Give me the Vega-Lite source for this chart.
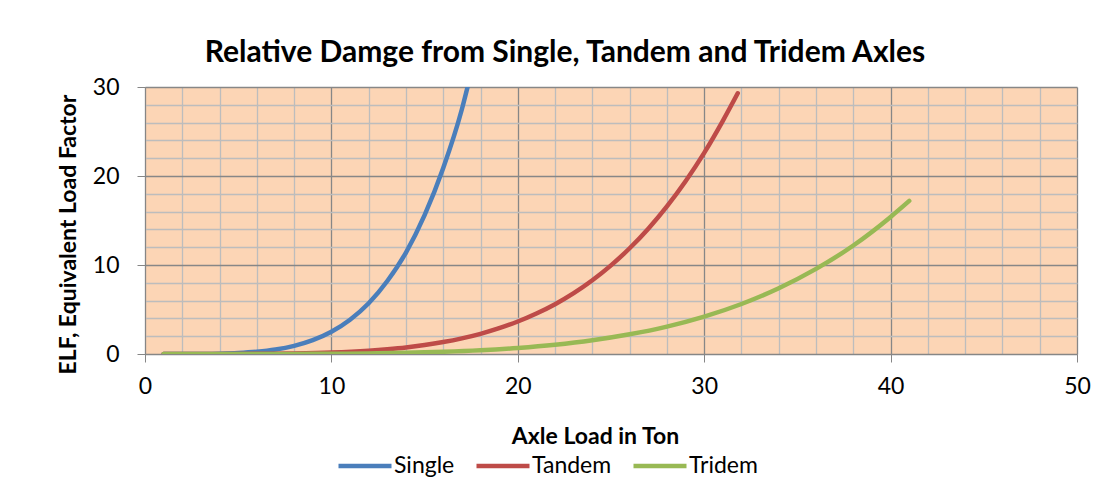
{
  "$schema": "https://vega.github.io/schema/vega-lite/v6.json",
  "autosize": {"type": "none"},
  "width": 932,
  "height": 267,
  "padding": {"left": 145, "top": 87, "right": 30, "bottom": 143},
  "background": "white",
  "title": {
    "text": "Relative Damge from Single, Tandem and Tridem Axles",
    "font": "Lato",
    "fontSize": 30,
    "fontWeight": "bold",
    "color": "black",
    "anchor": "middle",
    "dx": -46,
    "offset": 8
  },
  "data": {
    "values": [
      {"series": "Single", "load": 1, "elf": 0.0001},
      {"series": "Single", "load": 2, "elf": 0.0018},
      {"series": "Single", "load": 3, "elf": 0.011},
      {"series": "Single", "load": 4, "elf": 0.04},
      {"series": "Single", "load": 5, "elf": 0.11},
      {"series": "Single", "load": 6, "elf": 0.25},
      {"series": "Single", "load": 7, "elf": 0.5},
      {"series": "Single", "load": 8, "elf": 0.92},
      {"series": "Single", "load": 9, "elf": 1.56},
      {"series": "Single", "load": 10, "elf": 2.5},
      {"series": "Single", "load": 11, "elf": 3.85},
      {"series": "Single", "load": 12, "elf": 5.7},
      {"series": "Single", "load": 13, "elf": 8.2},
      {"series": "Single", "load": 14, "elf": 11.4},
      {"series": "Single", "load": 15, "elf": 15.6},
      {"series": "Single", "load": 16, "elf": 20.9},
      {"series": "Single", "load": 17, "elf": 27.5},
      {"series": "Single", "load": 17.4, "elf": 30.8},
      {"series": "Tandem", "load": 1, "elf": 0.0},
      {"series": "Tandem", "load": 2, "elf": 0.0001},
      {"series": "Tandem", "load": 4, "elf": 0.0026},
      {"series": "Tandem", "load": 6, "elf": 0.016},
      {"series": "Tandem", "load": 8, "elf": 0.059},
      {"series": "Tandem", "load": 10, "elf": 0.16},
      {"series": "Tandem", "load": 12, "elf": 0.37},
      {"series": "Tandem", "load": 13, "elf": 0.53},
      {"series": "Tandem", "load": 14, "elf": 0.73},
      {"series": "Tandem", "load": 15, "elf": 1.0},
      {"series": "Tandem", "load": 16, "elf": 1.34},
      {"series": "Tandem", "load": 17, "elf": 1.76},
      {"series": "Tandem", "load": 18, "elf": 2.27},
      {"series": "Tandem", "load": 19, "elf": 2.9},
      {"series": "Tandem", "load": 20, "elf": 3.65},
      {"series": "Tandem", "load": 21, "elf": 4.55},
      {"series": "Tandem", "load": 22, "elf": 5.6},
      {"series": "Tandem", "load": 23, "elf": 6.84},
      {"series": "Tandem", "load": 24, "elf": 8.29},
      {"series": "Tandem", "load": 25, "elf": 9.96},
      {"series": "Tandem", "load": 26, "elf": 11.88},
      {"series": "Tandem", "load": 27, "elf": 14.08},
      {"series": "Tandem", "load": 28, "elf": 16.59},
      {"series": "Tandem", "load": 29, "elf": 19.42},
      {"series": "Tandem", "load": 30, "elf": 22.6},
      {"series": "Tandem", "load": 31, "elf": 26.2},
      {"series": "Tandem", "load": 31.8, "elf": 29.3},
      {"series": "Tridem", "load": 1, "elf": 0.0},
      {"series": "Tridem", "load": 3, "elf": 0.0001},
      {"series": "Tridem", "load": 5, "elf": 0.0013},
      {"series": "Tridem", "load": 8, "elf": 0.011},
      {"series": "Tridem", "load": 10, "elf": 0.03},
      {"series": "Tridem", "load": 12, "elf": 0.068},
      {"series": "Tridem", "load": 14, "elf": 0.136},
      {"series": "Tridem", "load": 16, "elf": 0.249},
      {"series": "Tridem", "load": 18, "elf": 0.42},
      {"series": "Tridem", "load": 20, "elf": 0.68},
      {"series": "Tridem", "load": 22, "elf": 1.04},
      {"series": "Tridem", "load": 24, "elf": 1.54},
      {"series": "Tridem", "load": 26, "elf": 2.21},
      {"series": "Tridem", "load": 28, "elf": 3.08},
      {"series": "Tridem", "load": 30, "elf": 4.2},
      {"series": "Tridem", "load": 32, "elf": 5.62},
      {"series": "Tridem", "load": 34, "elf": 7.39},
      {"series": "Tridem", "load": 36, "elf": 9.56},
      {"series": "Tridem", "load": 38, "elf": 12.19},
      {"series": "Tridem", "load": 40, "elf": 15.4},
      {"series": "Tridem", "load": 41, "elf": 17.2}
    ]
  },
  "mark": {"type": "line", "strokeWidth": 4.5, "strokeCap": "round", "interpolate": "monotone", "clip": true},
  "encoding": {
    "x": {
      "field": "load",
      "type": "quantitative",
      "scale": {"domain": [0, 50], "nice": false},
      "axis": {
        "title": "Axle Load in Ton",
        "titleFont": "Lato",
        "titleFontSize": 23,
        "titleFontWeight": "bold",
        "titleColor": "black",
        "titleX": 450,
        "titlePadding": 27,
        "values": [0, 2, 4, 6, 8, 10, 12, 14, 16, 18, 20, 22, 24, 26, 28, 30, 32, 34, 36, 38, 40, 42, 44, 46, 48, 50],
        "labelExpr": "datum.value % 10 === 0 ? datum.label : ''",
        "labelFont": "Lato",
        "labelFontSize": 23,
        "labelColor": "black",
        "labelPadding": 13,
        "labelFlush": false,
        "labelOverlap": false,
        "tickSize": 8,
        "tickColor": "#868686",
        "tickOpacity": {"condition": {"test": "datum.value % 10 === 0", "value": 1}, "value": 0},
        "domainColor": "#868686",
        "grid": true,
        "gridColor": {"condition": {"test": "datum.value % 10 === 0", "value": "#878787"}, "value": "#BDBDBD"},
        "gridWidth": 1.3
      }
    },
    "y": {
      "field": "elf",
      "type": "quantitative",
      "scale": {"domain": [0, 30], "nice": false},
      "axis": {
        "title": "ELF, Equivalent Load Factor",
        "titleFont": "Lato",
        "titleFontSize": 23,
        "titleFontWeight": "bold",
        "titleColor": "black",
        "titlePadding": 12,
        "titleY": 147,
        "values": [0, 2, 4, 6, 8, 10, 12, 14, 16, 18, 20, 22, 24, 26, 28, 30],
        "labelExpr": "datum.value % 10 === 0 ? datum.label : ''",
        "labelFont": "Lato",
        "labelFontSize": 23,
        "labelColor": "black",
        "labelPadding": 18,
        "labelFlush": false,
        "labelOverlap": false,
        "tickSize": 8,
        "tickColor": "#868686",
        "tickOpacity": {"condition": {"test": "datum.value % 10 === 0", "value": 1}, "value": 0},
        "domainColor": "#868686",
        "grid": true,
        "gridColor": {"condition": {"test": "datum.value % 10 === 0", "value": "#878787"}, "value": "#BDBDBD"},
        "gridWidth": 1.3
      }
    },
    "color": {
      "field": "series",
      "type": "nominal",
      "scale": {"domain": ["Single", "Tandem", "Tridem"], "range": ["#4A7EBB", "#BE4B48", "#98B954"]},
      "legend": {
        "title": null,
        "orient": "none",
        "legendX": 191,
        "legendY": 350,
        "direction": "horizontal",
        "symbolType": "stroke",
        "symbolSize": 2809,
        "symbolStrokeWidth": 4.5,
        "labelFont": "Lato",
        "labelFontSize": 23,
        "labelColor": "black",
        "labelOffset": 0,
        "columnPadding": 12
      }
    }
  },
  "config": {
    "view": {"fill": "#FCD5B5", "stroke": null}
  }
}
